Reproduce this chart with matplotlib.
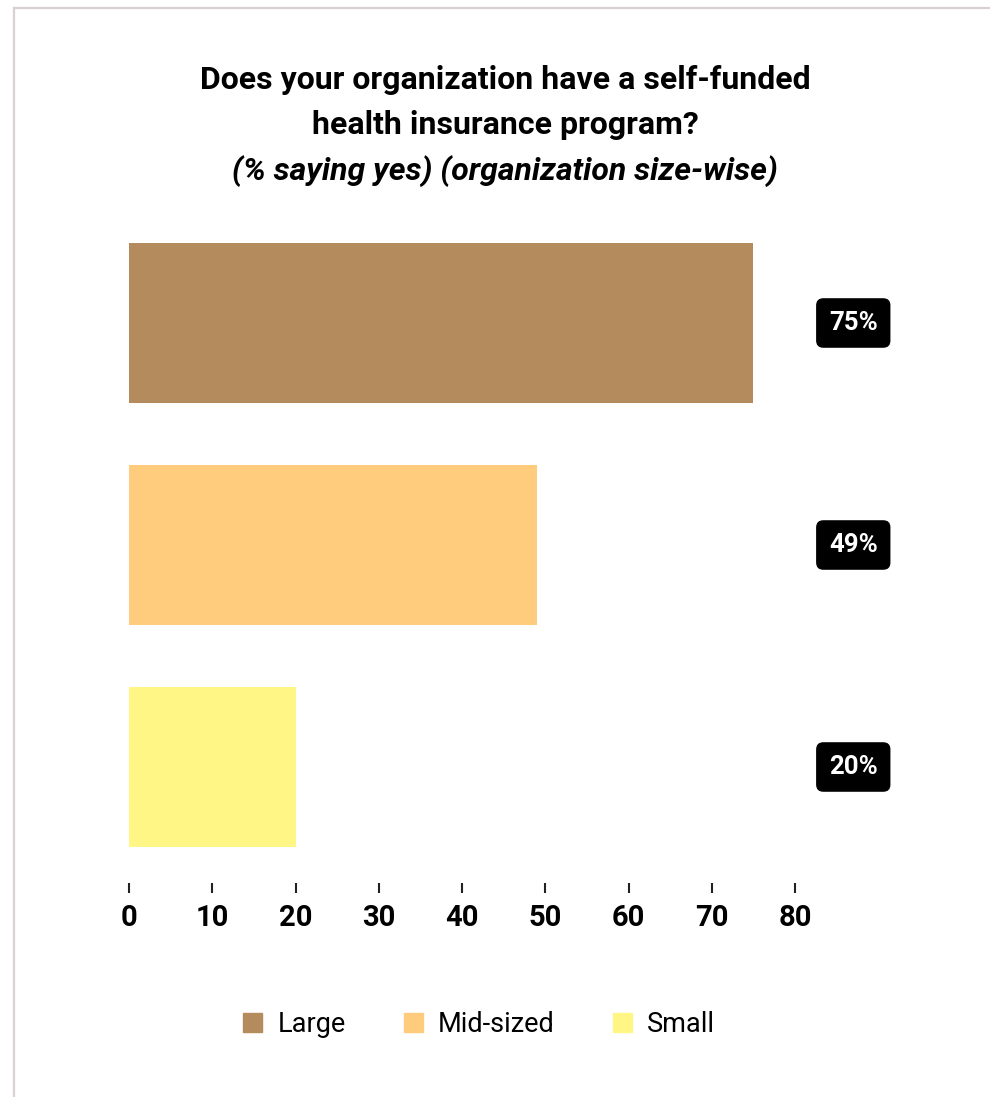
import matplotlib.pyplot as plt
import matplotlib.patches as mpatches
from matplotlib.lines import Line2D

plt.rcParams['font.family'] = ['Roboto', 'DejaVu Sans']

categories = ["Large", "Mid-sized", "Small"]
values = [75, 49, 20]
value_labels = ["75%", "49%", "20%"]
colors = ["#b38b5d", "#fecc7c", "#fff685"]
xticks = [0, 10, 20, 30, 40, 50, 60, 70, 80]

W, H = 990, 1097
fig = plt.figure(figsize=(W / 100, H / 100), dpi=100)

# axes box in pixels: x 129..795, y 212..883
ax = fig.add_axes([129 / W, 1 - 883 / H, (795 - 129) / W, (883 - 212) / H])
pos = list(range(len(categories)))
ax.barh(pos, values, height=160 / 222, color=colors)
ax.set_xlim(0, 80)
ax.set_ylim(-0.5 + 671 / 222, -0.5)

for s in ax.spines.values():
    s.set_visible(False)
ax.set_yticks([])
ax.set_xticks(xticks)
ax.set_xticklabels([str(t) for t in xticks], fontsize=21, fontweight='bold')
ax.tick_params(axis='x', length=7.2, width=1.5, color='#222222', pad=8)

# value labels in black rounded boxes
for p, lab in zip(pos, value_labels):
    ax.text(87, p, lab, ha='center', va='center', fontsize=18.5, fontweight='bold',
            color='white', clip_on=False,
            bbox=dict(boxstyle='round,pad=0.47,rounding_size=0.25', fc='black', ec='black'))

# title
tx = 505 / W
fig.text(tx, 1 - 80 / H, "Does your organization have a self-funded", ha='center', va='center',
         fontsize=23, fontweight='bold')
fig.text(tx, 1 - 125 / H, "health insurance program?", ha='center', va='center',
         fontsize=23, fontweight='bold')
fig.text(tx, 1 - 171 / H, "(% saying yes) (organization size-wise)", ha='center', va='center',
         fontsize=23, fontweight='bold', style='italic')

# legend
handles = [mpatches.Patch(color=c, label=l) for c, l in zip(colors, categories)]
fig.legend(handles=handles, loc='center', bbox_to_anchor=(479 / W, 1 - 1024 / H), ncol=3,
           frameon=False, fontsize=19.5, handlelength=0.7, handleheight=0.7,
           handletextpad=0.55, columnspacing=2.15)

# outer border (top and left)
fig.add_artist(Line2D([13.5 / W, 1], [1 - 7.5 / H, 1 - 7.5 / H], color='#d9d0d0', lw=1.6))
fig.add_artist(Line2D([13.5 / W, 13.5 / W], [0, 1 - 7.5 / H], color='#d9d0d0', lw=1.6))

fig.savefig("out.png", dpi=100)
